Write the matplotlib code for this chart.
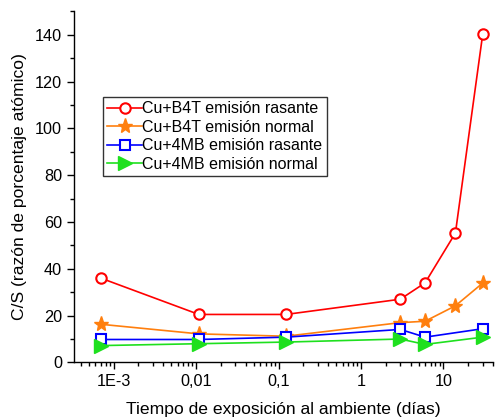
import matplotlib.pyplot as plt
from matplotlib.ticker import FixedLocator, MultipleLocator, LogLocator, NullFormatter

plt.rcParams['font.family'] = ['Liberation Sans', 'DejaVu Sans']

# tiempo de exposición (días)
dias = [7e-4, 0.0108, 0.123, 3, 6, 14, 30]
dias_4mb = [7e-4, 0.0108, 0.123, 3, 6, 30]

b4t_rasante = [36.0, 20.5, 20.5, 27.0, 34.0, 55.3, 140.2]
b4t_normal = [16.3, 12.2, 11.2, 17.0, 17.6, 24.2, 33.9]
mb_rasante = [9.8, 9.8, 10.8, 14.1, 10.8, 14.4]
mb_normal = [7.2, 8.0, 8.7, 10.0, 7.7, 10.8]

etiquetas_x = ['1E-3', '0,01', '0,1', '1', '10']
valores_x = [1e-3, 1e-2, 1e-1, 1, 10]

fig = plt.figure(figsize=(5, 4.19), dpi=100)
ax = fig.add_axes([0.148, 0.135, 0.838, 0.838])

ax.plot(dias, b4t_rasante, '-o', color='red', mfc='white', mec='red', mew=1.5, ms=7.5,
        lw=1.2, label='Cu+B4T emisión rasante')
ax.plot(dias, b4t_normal, '-*', color='#ff7f0e', mec='#ff7f0e', ms=11,
        lw=1.2, label='Cu+B4T emisión normal')
ax.plot(dias_4mb, mb_rasante, '-s', color='blue', mfc='white', mec='blue', mew=1.5, ms=6.5,
        lw=1.2, label='Cu+4MB emisión rasante')
ax.plot(dias_4mb, mb_normal, '->', color='#1ee01e', mec='#1ee01e', ms=10,
        lw=1.2, label='Cu+4MB emisión normal')

ax.set_xscale('log')
ax.set_xlim(3.3e-4, 40)
ax.set_ylim(0, 150)

ax.xaxis.set_major_locator(FixedLocator(valores_x))
ax.set_xticklabels(etiquetas_x)
ax.xaxis.set_minor_locator(LogLocator(base=10, subs=range(2, 10), numticks=20))
ax.xaxis.set_minor_formatter(NullFormatter())
ax.yaxis.set_major_locator(FixedLocator([0, 20, 40, 60, 80, 100, 120, 140]))
ax.yaxis.set_minor_locator(MultipleLocator(10))

for lado in ['top', 'right']:
    ax.spines[lado].set_visible(False)
for lado in ['left', 'bottom']:
    ax.spines[lado].set_linewidth(1.0)

ax.tick_params(axis='both', which='major', direction='out', length=5, width=1, labelsize=11.7)
ax.tick_params(axis='both', which='minor', direction='out', length=3, width=1)

ax.set_xlabel('Tiempo de exposición al ambiente (días)', fontsize=12.6, labelpad=9)
ax.set_ylabel('C/S (razón de porcentaje atómico)', fontsize=12.6, labelpad=6)

leg = ax.legend(loc='upper left', bbox_to_anchor=(0.07, 0.755), fontsize=11.5,
                frameon=True, fancybox=False, edgecolor='black', handlelength=2.2,
                handletextpad=0.0, borderpad=0.25, labelspacing=0.22, borderaxespad=0)
leg.get_frame().set_linewidth(1.0)

fig.savefig('out.png', dpi=100)
